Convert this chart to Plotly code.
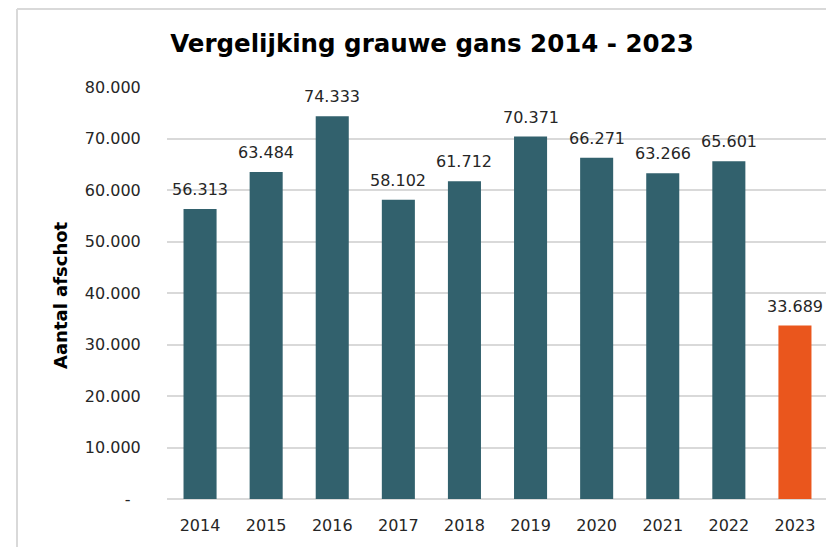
import plotly.graph_objects as go

years = ["2014", "2015", "2016", "2017", "2018", "2019", "2020", "2021", "2022", "2023"]
values = [56313, 63484, 74333, 58102, 61712, 70371, 66271, 63266, 65601, 33689]
labels = ["56.313", "63.484", "74.333", "58.102", "61.712", "70.371", "66.271", "63.266", "65.601", "33.689"]
colors = ["#32616D"] * 9 + ["#EA561D"]
tick_vals = [0, 10000, 20000, 30000, 40000, 50000, 60000, 70000, 80000]
tick_text = ["-\u00a0\u00a0", "10.000", "20.000", "30.000", "40.000", "50.000", "60.000", "70.000", "80.000"]

FONT = "DejaVu Sans"
W, H = 834, 547
# page body has an 8px margin, so figure coordinates = reference coordinates - 8
L, R, T, B = 159, 14, 79, 56
pw, ph = W - L - R, H - T - B

fig = go.Figure(go.Bar(
    x=years, y=values, marker=dict(color=colors, line=dict(width=0)),
))

# category axis: annotation x given as category index
label_annotations = [
    dict(x=i, y=v, text=t, xref="x", yref="y", showarrow=False, yanchor="bottom", xanchor="center",
         yshift=8, font=dict(size=16, color="#262626", family=FONT))
    for i, (v, t) in enumerate(zip(values, labels))
]

fig.update_layout(
    width=W, height=H, margin=dict(l=L, r=R, t=T, b=B, autoexpand=False),
    paper_bgcolor="white", plot_bgcolor="white",
    bargap=0.5, showlegend=False,
    font=dict(family=FONT, color="#262626"),
    title=dict(text="<b>Vergelijking grauwe gans 2014 - 2023</b>", x=424 / W, xanchor="center",
               y=1 - 35 / H, yanchor="middle", font=dict(size=24.5, color="#000000", family=FONT)),
    xaxis=dict(type="category", range=[-0.5, len(years) - 0.5], showgrid=False, showline=False,
               ticks="outside", ticklen=12, tickcolor="rgba(0,0,0,0)", tickfont=dict(size=16, color="#262626")),
    yaxis=dict(range=[0, 80000], tickvals=tick_vals, ticktext=tick_text, showgrid=True,
               gridcolor="#D9D9D9", gridwidth=2, zeroline=True, zerolinecolor="#D9D9D9", zerolinewidth=2,
               ticks="outside", ticklen=22, tickcolor="rgba(0,0,0,0)", tickfont=dict(size=16, color="#262626")),
    annotations=label_annotations + [
        dict(text="<b>Aantal afschot</b>", xref="paper", yref="paper", x=(52 - L) / pw,
             y=(H - B - 287) / ph, textangle=-90, showarrow=False, xanchor="center", yanchor="middle",
             font=dict(size=18, color="#000000"))],
    shapes=[
        dict(type="line", xref="paper", yref="paper", x0=(9 - L) / pw, x1=(9 - L) / pw,
             y0=(H - B - 1) / ph, y1=-1, line=dict(color="#D9D9D9", width=2)),
        dict(type="line", xref="paper", yref="paper", x0=(9 - L) / pw, x1=1.2,
             y0=(H - B - 1) / ph, y1=(H - B - 1) / ph, line=dict(color="#D9D9D9", width=2)),
    ],
)

fig.write_html("out.html")
